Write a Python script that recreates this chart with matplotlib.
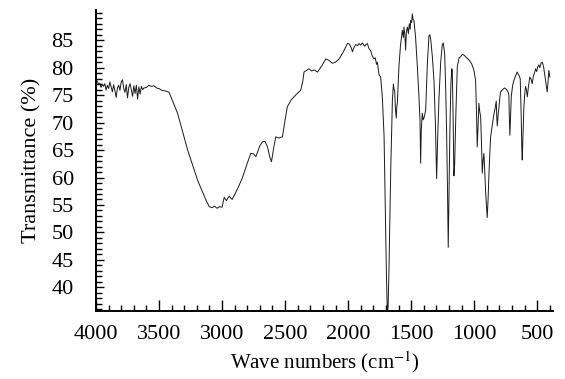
"""IR transmittance spectrum, recreated from a reference picture."""

import matplotlib

matplotlib.use("Agg")
import matplotlib.pyplot as plt
from matplotlib.ticker import MultipleLocator

plt.rcParams["font.family"] = ["Liberation Serif", "DejaVu Serif"]
plt.rcParams["mathtext.fontset"] = "stix"

# noisy plateau, 4000-3420 cm-1
WN_HIGH = [4000, 3990, 3980, 3970, 3960, 3950, 3940, 3930, 3920, 3910, 3900,
           3890, 3880, 3870, 3860, 3850, 3840, 3830, 3820, 3810, 3800, 3790,
           3780, 3770, 3760, 3750, 3740, 3730, 3720, 3710, 3700, 3690, 3680,
           3670, 3660, 3650, 3640, 3630, 3620, 3600, 3580, 3560, 3540, 3520,
           3500, 3480, 3460, 3440, 3420]
T_HIGH = [77.3, 77.6, 76.9, 77.2, 76.4, 77.0, 76.6, 77.1, 75.9, 76.8, 76.2,
          77.4, 76.5, 75.6, 76.9, 75.8, 74.6, 76.3, 76.8, 75.9, 77.4, 77.8,
          76.2, 75.5, 76.9, 74.5, 76.4, 77.1, 76.0, 74.8, 76.7, 75.3, 76.8,
          74.3, 76.5, 75.2, 76.6, 76.0, 76.3, 76.4, 76.8, 76.6, 76.7, 76.3,
          76.2, 75.9, 75.8, 75.7, 75.5]

# broad O-H band up to the carbonyl region
WN_MID = [3353, 3273, 3194, 3128, 3102, 3080, 3060, 3040, 3020, 3000, 2983,
          2965, 2944, 2920, 2900, 2870, 2838, 2800, 2772, 2750, 2732, 2700,
          2679, 2660, 2640, 2620, 2608, 2590, 2574, 2550, 2521, 2500, 2482,
          2450, 2429, 2400, 2376, 2360, 2350, 2330, 2310, 2290, 2270, 2243,
          2210, 2177, 2150, 2125, 2100, 2072, 2040, 2006, 1990, 1975, 1966,
          1955, 1940, 1925, 1914, 1900, 1887, 1870, 1860, 1847, 1835, 1820,
          1810, 1795, 1785, 1775, 1768, 1755, 1742]
T_MID = [71.7, 65.0, 59.5, 55.9, 54.7, 54.5, 54.8, 54.4, 54.7, 54.6, 56.4,
         55.8, 56.6, 56.0, 56.9, 58.3, 60.0, 62.6, 64.4, 64.3, 63.8, 65.8,
         66.5, 66.6, 65.6, 63.6, 62.9, 65.5, 67.4, 67.2, 67.4, 70.5, 72.9,
         74.2, 74.7, 75.4, 75.9, 77.5, 79.2, 79.5, 79.8, 79.4, 79.6, 79.2,
         80.3, 81.6, 81.3, 80.8, 81.0, 81.6, 82.8, 84.4, 84.3, 83.6, 82.9,
         83.6, 84.2, 84.0, 84.4, 84.1, 84.5, 83.9, 84.2, 84.4, 83.5, 83.0,
         82.2, 81.6, 81.8, 80.6, 81.0, 78.7, 78.3]

# fingerprint region
WN_LOW = [1729, 1715, 1707, 1697, 1689, 1683, 1676, 1662, 1649, 1641, 1636,
          1631, 1625, 1618, 1614, 1610, 1597, 1585, 1570, 1562, 1557, 1550,
          1544, 1538, 1530, 1522, 1515, 1508, 1504, 1496, 1491, 1485, 1478,
          1465, 1451, 1440, 1430, 1425, 1420, 1412, 1405, 1399, 1392, 1385,
          1372, 1359, 1352, 1345, 1332, 1319, 1308, 1298, 1290, 1280, 1266,
          1253, 1245, 1234, 1226, 1219, 1212, 1206, 1200, 1193, 1185, 1178,
          1174, 1168, 1161, 1155, 1145, 1134, 1120, 1108, 1095, 1082, 1060,
          1042, 1020, 1002, 995, 989, 982, 976, 970, 963, 956, 949, 942, 936,
          930, 923, 916, 910, 903, 897, 890, 884, 877, 870, 857, 844, 835,
          825, 821, 817, 810, 804, 797, 791, 775, 760, 751, 740, 730, 725,
          721, 717, 712, 706, 695, 685, 672, 659, 645, 635, 628, 622, 619,
          613, 606, 600, 593, 586, 579, 570, 559, 550, 540, 530, 520, 513,
          505, 495, 487, 480, 470, 460, 450, 442, 434, 427, 421, 414, 408,
          400]
T_LOW = [74.8, 67.5, 56.6, 43.2, 35.0, 36.5, 43.3, 61.5, 74.0, 77.0, 76.0,
         75.9, 72.5, 70.8, 73.0, 73.5, 80.2, 84.0, 86.8, 85.5, 87.4, 86.0,
         83.2, 86.5, 87.4, 86.2, 88.0, 87.0, 88.6, 88.2, 89.8, 88.8, 88.6,
         85.5, 80.2, 75.5, 70.5, 62.6, 68.5, 71.7, 70.5, 70.8, 71.5, 72.3,
         80.5, 85.8, 86.0, 85.2, 82.0, 77.6, 70.0, 59.8, 67.0, 74.1, 81.0,
         84.2, 84.5, 82.4, 76.0, 68.5, 58.0, 47.3, 57.0, 68.5, 77.0, 79.8,
         79.5, 72.0, 60.3, 62.5, 72.0, 80.2, 81.8, 82.0, 82.4, 82.3, 81.8,
         81.4, 80.7, 79.5, 78.5, 77.7, 72.0, 65.6, 69.0, 73.5, 72.0, 71.1,
         66.0, 60.8, 63.0, 64.4, 61.0, 57.6, 55.0, 52.7, 56.0, 60.0, 64.0,
         67.3, 69.5, 71.5, 72.5, 73.9, 71.0, 69.4, 71.5, 72.7, 74.5, 75.6,
         76.0, 76.3, 76.2, 75.9, 75.5, 75.0, 70.5, 67.7, 71.0, 74.7, 76.8,
         77.7, 78.5, 79.2, 78.6, 78.0, 72.0, 65.0, 63.2, 68.0, 72.9, 75.0,
         76.6, 76.0, 74.7, 76.5, 78.3, 78.0, 77.1, 78.5, 79.2, 79.8, 79.3,
         80.2, 80.5, 80.0, 80.8, 81.0, 80.2, 79.0, 77.7, 76.5, 75.6, 77.5,
         79.5, 78.3]

wavenumber = WN_HIGH + WN_MID + WN_LOW
transmittance = T_HIGH + T_MID + T_LOW

fig = plt.figure(figsize=(5.65, 3.79), dpi=100)
ax = fig.add_axes([96 / 565, 1 - 311 / 379, 457 / 565, 301 / 379])
ax.plot(wavenumber, transmittance, color="#1a1a1a", linewidth=0.7)

ax.set_xlim(4000, 375)
ax.set_ylim(35.7, 90.5)
ax.xaxis.set_major_locator(MultipleLocator(500))
ax.xaxis.set_minor_locator(MultipleLocator(100))
ax.yaxis.set_minor_locator(MultipleLocator(1))
ax.set_yticks(range(40, 90, 5))

for side in ("top", "right"):
    ax.spines[side].set_visible(False)
for side in ("left", "bottom"):
    ax.spines[side].set_linewidth(1.4)

ax.tick_params(axis="both", which="both", direction="in", width=1.0)
ax.tick_params(axis="x", which="major", length=8, pad=10, labelsize=16)
ax.tick_params(axis="x", which="minor", length=4)
ax.tick_params(axis="y", which="major", length=6, pad=16, labelsize=16)
ax.tick_params(axis="y", which="minor", length=4)

ax.set_xlabel(r"Wave numbers (cm$^{-1}$)", fontsize=15, labelpad=4)
ax.set_ylabel("Transmittance (%)", fontsize=16, labelpad=7)

fig.savefig("out.png", dpi=100)
plt.close(fig)
